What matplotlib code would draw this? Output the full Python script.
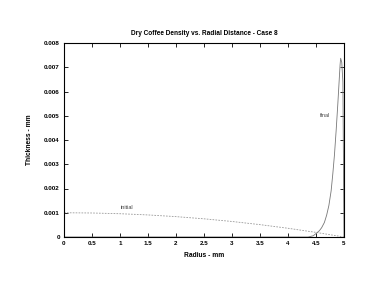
import numpy as np
import matplotlib
matplotlib.use('Agg')
import matplotlib.pyplot as plt

# initial profile (dashed)
r_initial = [0.0, 0.5, 1.0, 1.5, 2.0, 2.5, 3.0, 3.5, 4.0, 4.5, 5.0]
h_initial = [0.001, 0.00099, 0.00096, 0.00091, 0.00084, 0.00075, 0.00064,
             0.00051, 0.00036, 0.00019, 0.0]

# final profile (solid)
r_final = [0.0, 1.0, 2.0, 3.0, 4.0, 4.36, 4.45, 4.51, 4.56, 4.60, 4.65, 4.69,
           4.73, 4.77, 4.80, 4.83, 4.86, 4.89, 4.91, 4.93, 4.94, 4.96, 4.98, 5.0]
h_final = [0.0, 0.0, 0.0, 0.0, 0.0, 0.0, 0.00005, 0.00016, 0.00026, 0.00038,
           0.0006, 0.0009, 0.0013, 0.0019, 0.0026, 0.0034, 0.0044, 0.0055,
           0.0063, 0.0071, 0.00737, 0.0072, 0.0064, 0.0]

plt.rcParams['font.family'] = ['Liberation Sans', 'DejaVu Sans']
plt.rcParams['font.weight'] = 'bold'

fig = plt.figure(figsize=(3.66, 2.83), dpi=100)
ax = fig.add_axes([64/366, 1-237/283, 280/366, 194/283])

ax.plot(r_initial, h_initial, color='#999999', lw=0.6, ls=(0, (2, 1.5)))
ax.plot(r_final, h_final, color='#777777', lw=0.6)

ax.text(1.12, 0.0012, 'initial', fontsize=4, ha='center', va='center', fontweight='normal', color='#444444')
ax.text(4.66, 0.0050, 'final', fontsize=4, ha='center', va='center', fontweight='normal', color='#444444')

ax.set_xlim(0, 5)
ax.set_ylim(0, 0.008)
ax.set_xticks(np.arange(0, 5.01, 0.5))
ax.set_xticklabels(['0', '0.5', '1', '1.5', '2', '2.5', '3', '3.5', '4', '4.5', '5'])
ax.set_yticks(np.arange(0, 0.0081, 0.001))
ax.set_yticklabels(['0', '0.001', '0.002', '0.003', '0.004', '0.005', '0.006', '0.007', '0.008'])
ax.tick_params(direction='in', top=True, right=True, labelsize=4.5, length=3, width=0.6, pad=3)
for s in ax.spines.values():
    s.set_linewidth(0.8)

ax.set_title('Dry Coffee Density vs. Radial Distance - Case 8', fontsize=4.7, fontweight='bold', pad=6)
ax.set_xlabel('Radius - mm', fontsize=4.8, fontweight='bold', labelpad=4)
ax.set_ylabel('Thickness - mm', fontsize=4.8, fontweight='bold', labelpad=8)

fig.savefig('out.png', dpi=100)
